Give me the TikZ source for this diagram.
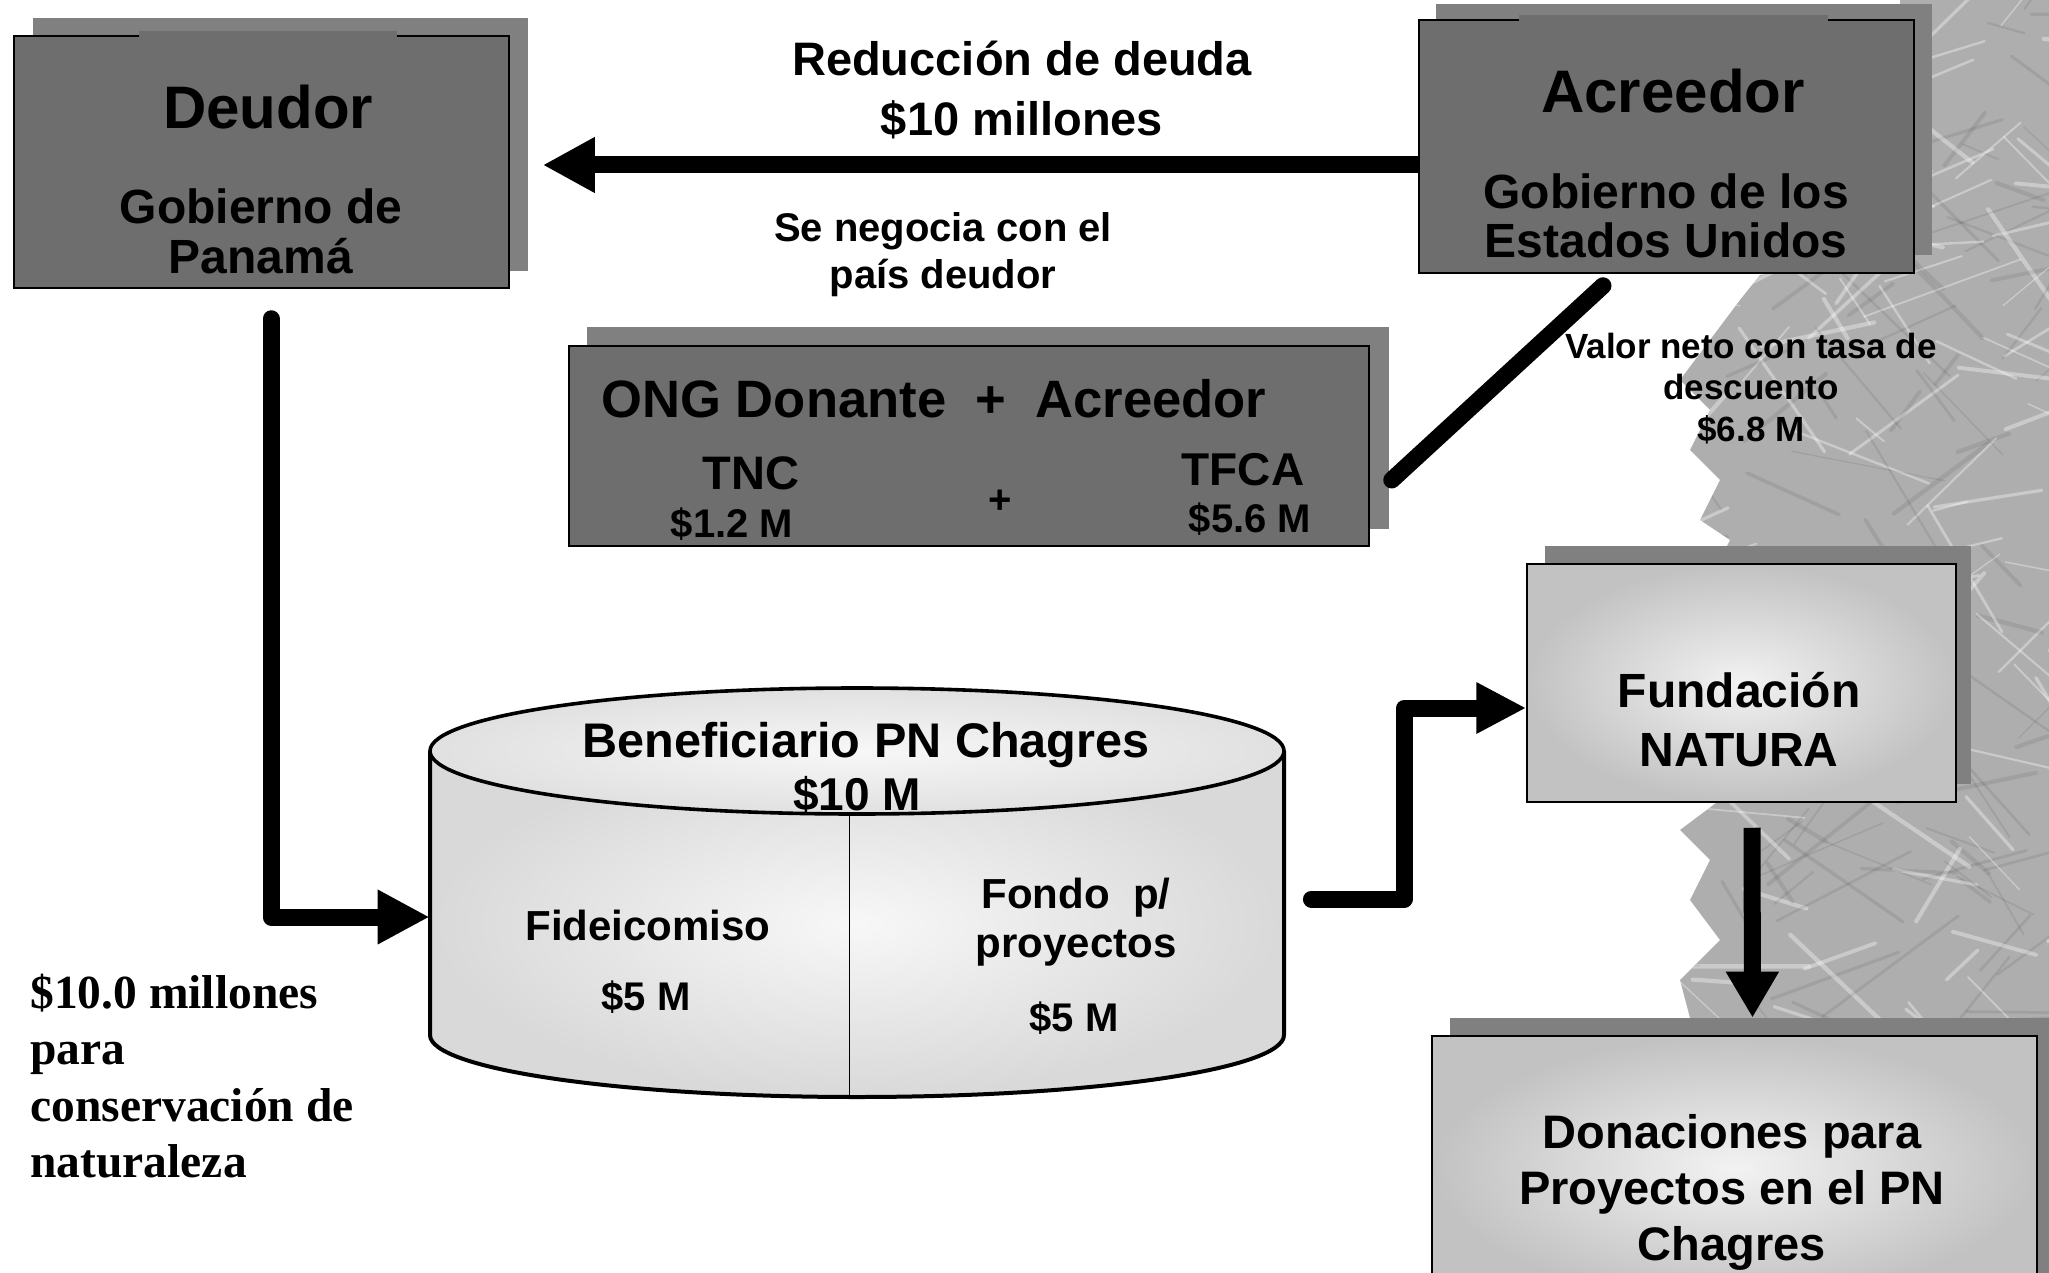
\documentclass[tikz,border=0pt]{standalone}
\usepackage{fontspec}
\setmainfont{Liberation Sans}
\newfontfamily\serifbold{Liberation Serif}
\usetikzlibrary{arrows.meta,calc}
\definecolor{boxdark}{HTML}{6E6E6E}
\definecolor{shadowg}{HTML}{808080}
\definecolor{plantg}{HTML}{AEAEAE}
\newcommand{\myfs}[2]{\fontsize{#1}{#2}\selectfont}
\begin{document}
\begin{tikzpicture}[x=0.5pt,y=-0.5pt,
  shbox/.style={fill=shadowg, draw=none, inner sep=0pt},
  darkbox/.style={fill=boxdark, draw=black, line width=0.75pt, inner sep=0pt},
  lightbox/.style={draw=black, line width=0.75pt, inner sep=0pt, inner color=white!95!black, outer color=white!76!black},
  txt/.style={inner sep=0pt, align=center, text=black},
  bigarrow/.style 2 args={draw=black, line width=8.5pt, line join=round, -{Triangle[length=#1,width=#2]}},
  thickline/.style={draw=black, line width=8.5pt, line cap=round}
]
\clip (0,0) rectangle (2049,1273);
\fill[white] (0,0) rectangle (2049,1273);

% ---- background plant (photo) ----
\begin{scope}
  \clip (1900,0) -- (2049,0) -- (2049,1018) -- (1690,1018) -- (1680,980) -- (1720,940)
    -- (1690,900) -- (1710,860) -- (1680,830) -- (1720,800) -- (1720,560) -- (1730,540)
    -- (1700,520) -- (1720,480) -- (1690,450) -- (1710,410) -- (1680,380) -- (1710,340)
    -- (1740,300) -- (1760,275) -- (1800,268) -- (1900,262) -- cycle;
  \fill[plantg] (1600,0) rectangle (2049,1100);
  \pgfmathsetseed{12}
  \foreach \i in {1,...,220} {
    \pgfmathsetmacro{\px}{1650+400*rnd}
    \pgfmathsetmacro{\py}{1040*rnd}
    \pgfmathsetmacro{\pa}{-60+120*rnd}
    \pgfmathsetmacro{\pl}{30+140*rnd}
    \pgfmathsetmacro{\pw}{0.6+1.6*rnd}
    \pgfmathsetmacro{\pc}{rnd}
    \ifdim\pc pt<0.5pt \def\stc{white}\def\sto{0.35}\else\def\stc{black}\def\sto{0.08}\fi
    \draw[\stc, opacity=\sto, line width=\pw pt, line cap=round] (\px,\py) -- ++(\pa:\pl);
  }
\end{scope}

% ---- shadows ----
\node[shbox, minimum width=247.5pt, minimum height=126.5pt] (deush) at (280.5,144.5) {};
\node[shbox, minimum width=248pt, minimum height=125.5pt] (acrsh) at (1684,129.5) {};
\node[shbox, minimum width=401pt, minimum height=101pt] (ongsh) at (988,428) {};
\node[shbox, minimum width=213pt, minimum height=119pt] (natsh) at (1758,665) {};
\node[shbox, minimum width=302.5pt, minimum height=132pt] (donsh) at (1752.5,1150) {};

% ---- boxes ----
\node[darkbox, minimum width=247.5pt, minimum height=126pt] (deu) at (261.5,162) {};
\fill[boxdark] (139,31) rectangle (397,37);
\node[darkbox, minimum width=247.5pt, minimum height=126.5pt] (acr) at (1666.5,146.5) {};
\fill[boxdark] (1519,15) rectangle (1828,21);
\node[darkbox, minimum width=400pt, minimum height=100pt] (ong) at (969,446) {};
\node[lightbox, minimum width=214.5pt, minimum height=119pt] (nat) at (1741.5,683) {};
\node[lightbox, minimum width=302.5pt, minimum height=132pt] (don) at (1734.5,1168) {};

% ---- cylinder ----
\node[inner sep=0pt, minimum width=427pt, minimum height=204.5pt] (cyl) at (857,892.5) {};
\path[inner color=white!97!black, outer color=white!85!black]
  (430,751) -- (430,1035) arc[start angle=180, end angle=0, x radius=427, y radius=62]
  -- (1284,751) -- cycle;
\draw[line width=0.75pt] (849.5,814) -- (849.5,1097);
\draw[line width=2pt, line join=round]
  (430,751) -- (430,1035) arc[start angle=180, end angle=0, x radius=427, y radius=62]
  -- (1284,751);
\draw[line width=1.8pt, inner color=white!97!black, outer color=white!88!black]
  (857,751) ellipse[x radius=427, y radius=63];

% ---- texts ----
\node[txt, font=\bfseries\myfs{30}{34}] (deut) at (268,107) {Deudor};
\node[txt, font=\bfseries\myfs{24}{25}] (deus) at (261,231) {Gobierno de\\Panamá};
\node[txt, font=\bfseries\myfs{30}{34}] (acrt) at (1673,91) {Acreedor};
\node[txt, font=\bfseries\myfs{24}{24.5}] (acrs) at (1666,215.5) {Gobierno de los\\Estados Unidos};
\node[txt, font=\bfseries\myfs{23.5}{30}] (redt) at (1022,90) {Reducción de deuda\\\$10 millones};
\node[txt, font=\bfseries\myfs{20}{23.5}] (negt) at (943,254.5) {Se negocia con el\\país deudor};
\node[txt, font=\bfseries\myfs{26.3}{28}] (ongt) at (934,399) {ONG Donante~~+~~Acreedor};
\node[txt, font=\bfseries\myfs{23.5}{26}] (tnc) at (751,473) {TNC};
\node[txt, font=\bfseries\myfs{20}{24}] (tncv) at (732,524) {\$1.2 M};
\node[txt, font=\bfseries\myfs{20}{24}] (plus) at (1000,502) {+};
\node[txt, font=\bfseries\myfs{23}{26}] (tfca) at (1243,470) {TFCA};
\node[txt, font=\bfseries\myfs{20}{24}] (tfcav) at (1250,519) {\$5.6 M};
\node[txt, font=\bfseries\myfs{17.5}{20.75}] (valt) at (1751,388.5) {Valor neto con tasa de\\descuento\\\$6.8 M};
\node[txt, font=\bfseries\myfs{24.3}{26}] (cylt) at (866,745) {Beneficiario PN Chagres};
\node[txt, font=\bfseries\myfs{23}{26}] (cylv) at (857,795) {\$10 M};
\node[txt, font=\bfseries\myfs{21}{24}] (fidt) at (648,925) {Fideicomiso};
\node[txt, font=\bfseries\myfs{20}{24}] (fidv) at (646,997) {\$5 M};
\node[txt, font=\bfseries\myfs{21}{24.5}] (font) at (1076,922.5) {Fondo~~p/\\proyectos};
\node[txt, font=\bfseries\myfs{20}{24}] (fonv) at (1074,1018) {\$5 M};
\node[txt, font=\bfseries\myfs{24}{29.5}] (natt) at (1739,719.5) {Fundación\\NATURA};
\node[txt, font=\bfseries\myfs{23.5}{28}] (dont) at (1732,1192) {Donaciones para\\Proyectos en el PN\\Chagres};
\node[inner sep=0pt, anchor=base west, font=\serifbold\bfseries\myfs{23.75}{28.25}] (blt) at (30,1008)
  {\begin{tabular}[t]{@{}l@{}}\$10.0 millones\\para\\conservación de\\naturaleza\end{tabular}};

% ---- connectors ----
\coordinate (ta) at ($(deu.east)+(33,3)$);
\draw[bigarrow={26pt}{26pt}] (acr.west |- ta) -- (ta);
\draw[thickline] ($(acr.south)+(-63.5,12)$) -- ($(ong.east)+(22,34)$);
\coordinate (la) at ($(cyl.west)+(0,24.5)$);
\draw[bigarrow={26pt}{25.5pt}, line cap=round] ($(deu.south)+(9.5,30)$) |- (la);
\coordinate (rc) at ($(nat.west)+(-122,25)$);
\draw[bigarrow={25pt}{24pt}, line cap=round] ($(cyl.east)+(27,6.5)$) -| (rc) -- (nat.west |- rc);
\draw[bigarrow={23pt}{25pt}] ($(nat.south)+(10.5,25)$) -- (donsh.north);
\end{tikzpicture}
\end{document}
